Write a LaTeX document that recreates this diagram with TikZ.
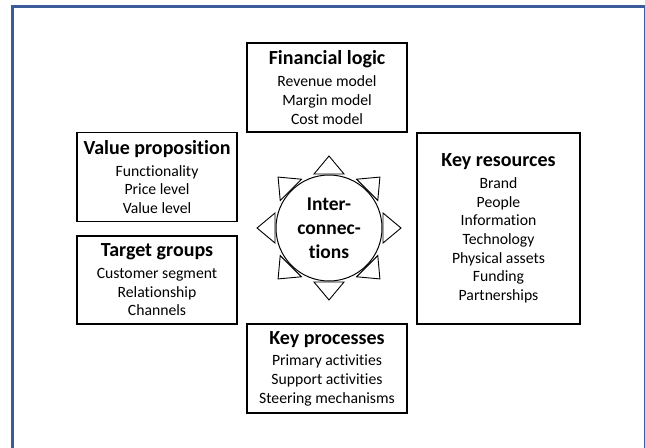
\documentclass[tikz,border=0pt]{standalone}
\usepackage{fontspec}
\setmainfont{Carlito}[Ligatures=NoCommon, RawFeature=-liga]
\definecolor{frameblue}{HTML}{3B5B9B}
\begin{document}
\begin{tikzpicture}[x=1pt,y=-1pt,
  box/.style={draw=black, line width=1.1pt, minimum width=160pt, minimum height=89pt,
    align=center, inner sep=0pt, font=\fontsize{15.7}{18.7}\selectfont},
  tri/.style={draw=black, line width=0.9pt, line join=miter}]
\useasboundingbox (0,0) rectangle (645,447);
\draw[frameblue, line width=3pt] (12.5,6) rectangle (645.5,470);
\newcommand{\ttlfont}{\fontsize{20}{22}\selectfont\bfseries}
\node[box] (fin) at (327,87.5) {{\ttlfont Financial logic}\\[3pt]Revenue model\\Margin model\\Cost model};
\node[box] (val) at (157,177) {{\ttlfont Value proposition}\\[3pt]Functionality\\Price level\\Value level};
\node[box, minimum height=88pt] (tgt) at (157,280) {{\ttlfont Target groups}\\[3pt]Customer segment\\Relationship\\Channels};
\node[box, minimum width=163pt, minimum height=191pt] (res) at (498.5,228.5) {{\ttlfont Key resources}\\[3pt]Brand\\People\\Information\\Technology\\Physical assets\\Funding\\Partnerships};
\node[box] (proc) at (327,368.5) {{\ttlfont Key processes}\\[3pt]Primary activities\\Support activities\\Steering mechanisms};
\node[circle, draw=black, line width=1pt, minimum size=106pt, inner sep=0pt, align=center,
  font=\fontsize{19.5}{24}\selectfont\bfseries] (ic) at (329,228) {Inter-\\connec-\\tions};
\foreach \a in {0,45,...,315}
  \draw[tri, shift={(ic.center)}, rotate=\a] (54,15) -- (72,0) -- (54,-15) -- cycle;
\end{tikzpicture}
\end{document}
